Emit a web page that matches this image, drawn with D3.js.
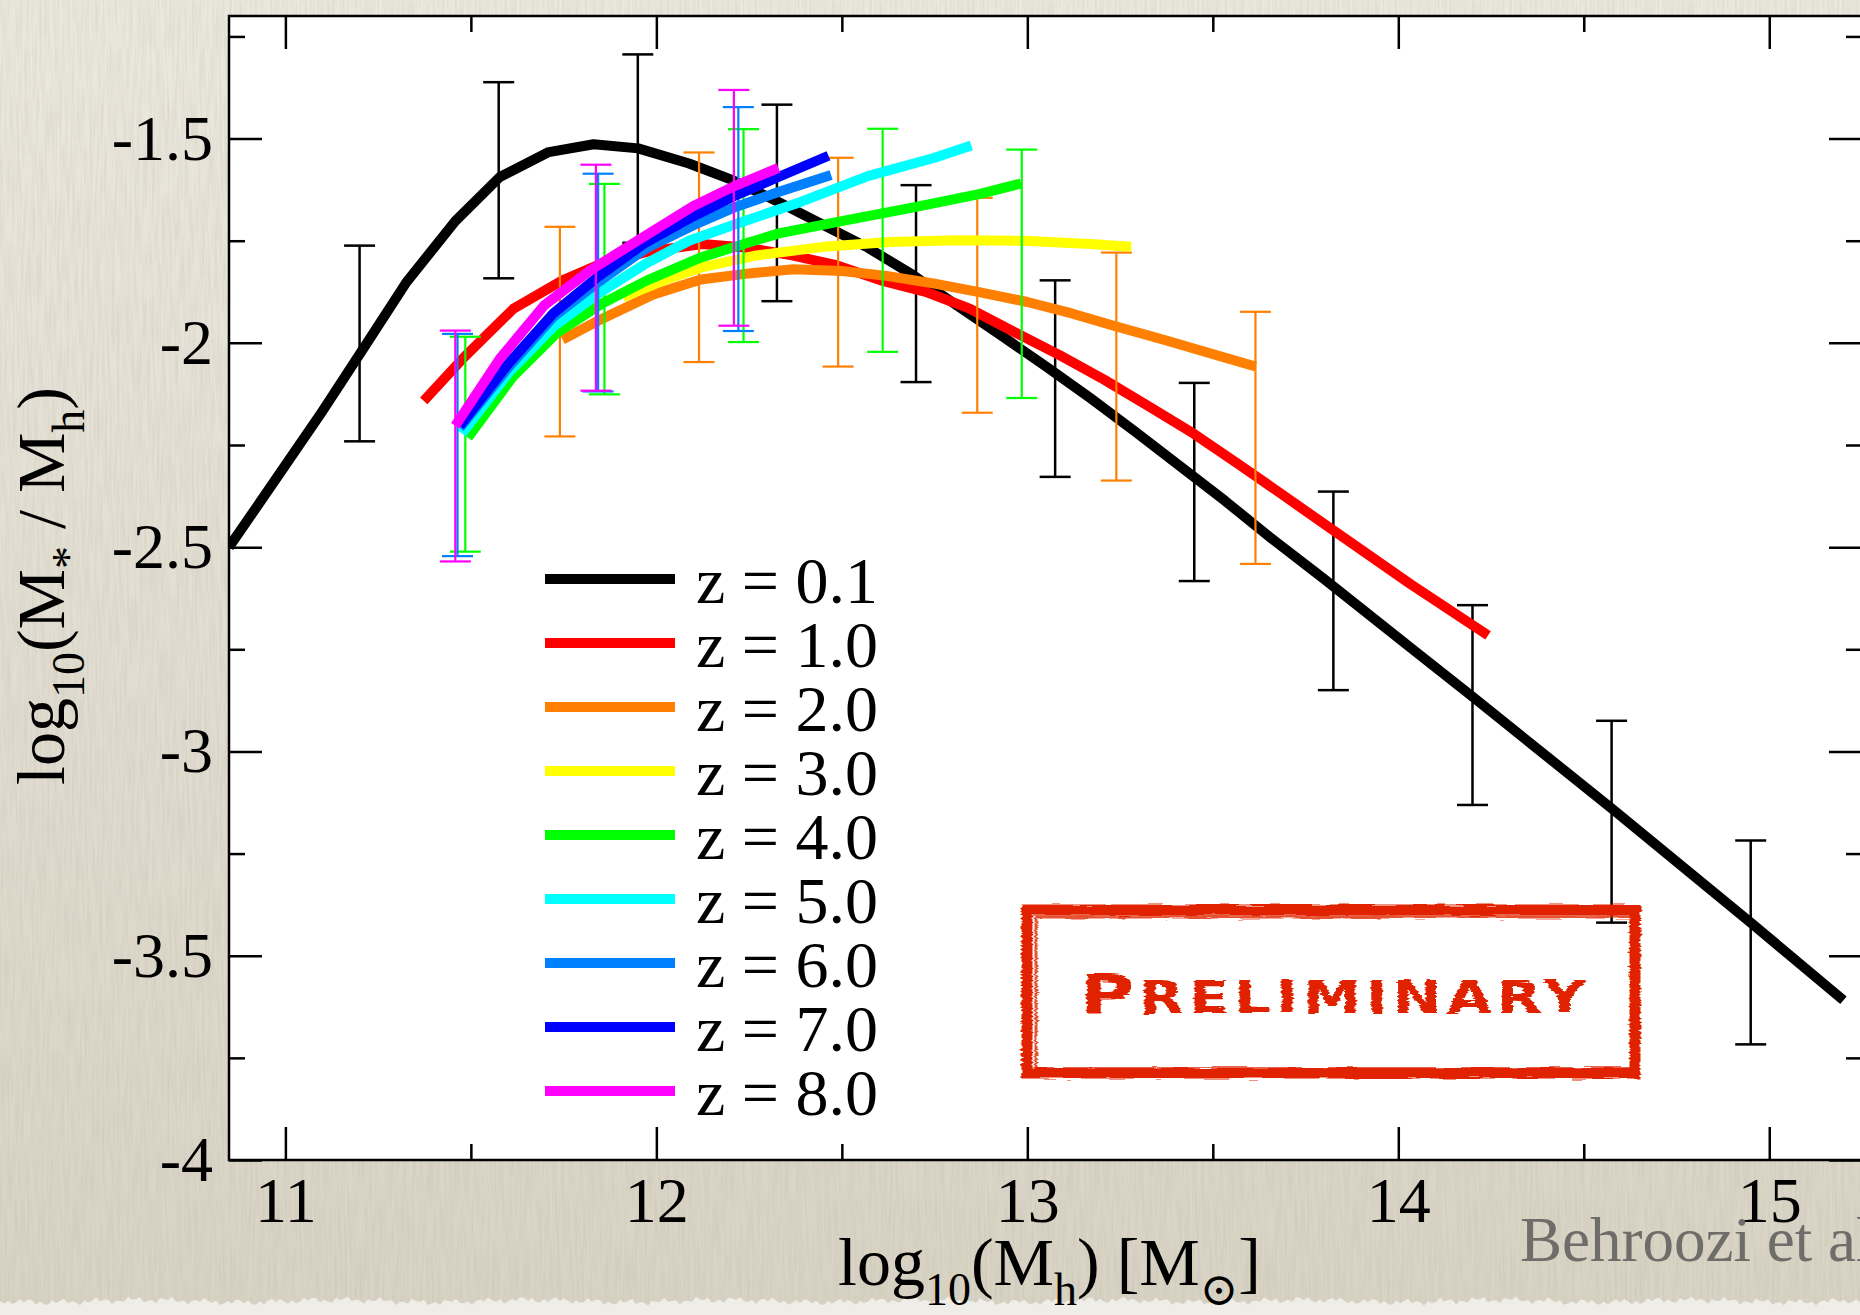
<!DOCTYPE html>
<html>
<head>
<meta charset="utf-8">
<title>Stellar mass / halo mass ratio</title>
<script src="https://cdn.jsdelivr.net/npm/d3@7/dist/d3.min.js"></script>
<style>
  html, body { margin: 0; padding: 0; background: #e4dfd3; }
  svg { display: block; }
</style>
</head>
<body>
<svg id="chart" width="1860" height="1315"></svg>
<script>
"use strict";

/* redshift of each curve, same order as the legend */
var redshifts = ["0.1", "1.0", "2.0", "3.0", "4.0", "5.0", "6.0", "7.0", "8.0"];

// [log10(Mh), log10(Mstar / Mh)]
var ratio_z0_1 = [[10.848,-2.50],[10.977,-2.330],[11.097,-2.171],[11.205,-2.021],[11.326,-1.852],[11.458,-1.702],
    [11.578,-1.594],[11.710,-1.533],[11.831,-1.514],[11.951,-1.524],[12.088,-1.561],[12.209,-1.603],[12.329,-1.655],
    [12.449,-1.711],[12.570,-1.767],[12.690,-1.833],[12.810,-1.908],[12.931,-1.983],[13.051,-2.058],[13.171,-2.136],
    [13.292,-2.218],[13.412,-2.302],[13.532,-2.386],[13.653,-2.475],[13.800,-2.578],[14.055,-2.762],[14.200,-2.866],
    [14.580,-3.143],[14.950,-3.419],[15.200,-3.609]];
var ratio_z1 = [[11.373,-2.142],[11.482,-2.035],[11.614,-1.917],[11.747,-1.847],[11.855,-1.805],[11.980,-1.776],
    [12.125,-1.758],[12.245,-1.767],[12.366,-1.786],[12.485,-1.810],[12.605,-1.847],[12.726,-1.875],[12.846,-1.917],
    [12.966,-1.974],[13.087,-2.030],[13.207,-2.090],[13.327,-2.155],[13.448,-2.222],[13.568,-2.296],[13.690,-2.373],
    [13.828,-2.461],[14.032,-2.590],[14.242,-2.716]];
var ratio_z2 = [[11.747,-1.992],[11.843,-1.946],[11.990,-1.882],[12.120,-1.845],[12.250,-1.830],[12.370,-1.820],
    [12.500,-1.824],[12.620,-1.836],[12.750,-1.855],[12.870,-1.876],[13.000,-1.900],[13.120,-1.928],[13.240,-1.960],
    [13.370,-1.993],[13.490,-2.025],[13.615,-2.058]];
var ratio_z3 = [[11.910,-1.888],[12.020,-1.847],[12.120,-1.816],[12.270,-1.786],[12.450,-1.765],[12.630,-1.753],
    [12.810,-1.749],[12.990,-1.750],[13.170,-1.758],[13.280,-1.765]];
var ratio_z4 = [[11.492,-2.232],[11.614,-2.082],[11.734,-1.974],[11.855,-1.903],[11.975,-1.847],[12.117,-1.792],
    [12.240,-1.757],[12.330,-1.732],[12.510,-1.700],[12.690,-1.669],[12.870,-1.636],[12.983,-1.610]];
var ratio_z5 = [[11.476,-2.222],[11.603,-2.072],[11.723,-1.960],[11.843,-1.880],[11.968,-1.808],[12.088,-1.750],
    [12.209,-1.711],[12.389,-1.655],[12.570,-1.592],[12.750,-1.547],[12.849,-1.517]];
var ratio_z6 = [[11.470,-2.208],[11.603,-2.058],[11.723,-1.936],[11.843,-1.852],[11.970,-1.770],[12.100,-1.712],
    [12.209,-1.669],[12.329,-1.631],[12.471,-1.589]];
var ratio_z7 = [[11.470,-2.203],[11.603,-2.049],[11.723,-1.927],[11.843,-1.838],[11.970,-1.755],[12.100,-1.690],
    [12.209,-1.641],[12.329,-1.594],[12.464,-1.542]];
var ratio_z8 = [[11.458,-2.203],[11.578,-2.039],[11.698,-1.908],[11.819,-1.824],[11.951,-1.749],[12.100,-1.665],
    [12.209,-1.617],[12.329,-1.572]];

// error bars: [log10(Mh), upper, lower]
var errors_z0_1 = [[11.200,-1.762,-2.241],[11.575,-1.362,-1.842],[11.950,-1.294,-1.755],[12.325,-1.417,-1.898],
    [12.700,-1.614,-2.096],[13.075,-1.847,-2.328],[13.450,-2.098,-2.583],[13.825,-2.364,-2.850],
    [14.200,-2.642,-3.131],[14.575,-2.925,-3.419],[14.950,-3.218,-3.717]];
var errors_z2 = [[11.740,-1.716,-2.229],[12.115,-1.534,-2.047],[12.490,-1.547,-2.058],[12.865,-1.645,-2.171],
    [13.240,-1.779,-2.337],[13.615,-1.924,-2.541]];
var errors_z4 = [[11.485,-1.985,-2.511],[11.860,-1.611,-2.126],[12.235,-1.477,-1.998],[12.610,-1.476,-2.022],
    [12.985,-1.527,-2.135]];
var errors_z6 = [[11.464,-1.978,-2.522],[11.843,-1.586,-2.119],[12.221,-1.423,-1.971]];
var errors_z8 = [[11.458,-1.970,-2.535],[11.837,-1.564,-2.117],[12.209,-1.381,-1.958]];

var xMajorTicks = [11, 12, 13, 14, 15];
var xMinorTicks = [11.5, 12.5, 13.5, 14.5];
var yMajorTicks = [-1.5, -2, -2.5, -3, -3.5, -4];
var yMinorTicks = [-1.25, -1.75, -2.25, -2.75, -3.25, -3.75];

var curves = [ratio_z0_1, ratio_z1, ratio_z2, ratio_z3, ratio_z4, ratio_z5, ratio_z6, ratio_z7, ratio_z8];
var errorSets = [errors_z0_1, null, errors_z2, null, errors_z4, null, errors_z6, null, errors_z8];
var colors = ["#000000", "#ff0000", "#ff8000", "#ffff00", "#00ff00", "#00ffff", "#0080ff", "#0000ff", "#ff00ff"];

var W = 1860, H = 1315;
var plot = { left: 229, top: 16, right: 1862, bottom: 1160 };
var serif = "'Liberation Serif', 'Times New Roman', serif";

var svg = d3.select("#chart");
var defs = svg.append("defs");

/* paper texture and background */
var grad = defs.append("linearGradient").attr("id", "paperGrad")
    .attr("x1", 0).attr("y1", 0).attr("x2", 0).attr("y2", 1);
grad.append("stop").attr("offset", "0%").attr("stop-color", "#ebe8de");
grad.append("stop").attr("offset", "100%").attr("stop-color", "#d9d3c4");

var grain = defs.append("filter").attr("id", "grain").attr("x", 0).attr("y", 0)
    .attr("width", "100%").attr("height", "100%");
grain.append("feTurbulence").attr("type", "fractalNoise")
    .attr("baseFrequency", "0.4 0.02").attr("numOctaves", 3).attr("seed", 7);
grain.append("feColorMatrix").attr("type", "matrix")
    .attr("values", "0 0 0 0 0.45  0 0 0 0 0.42  0 0 0 0 0.36  0.45 0 0 0 -0.15");

var rough = defs.append("filter").attr("id", "rough")
    .attr("x", "-5%").attr("y", "-10%").attr("width", "110%").attr("height", "120%");
rough.append("feTurbulence").attr("type", "fractalNoise")
    .attr("baseFrequency", "0.03 0.5").attr("numOctaves", 2).attr("seed", 3).attr("result", "n");
rough.append("feDisplacementMap").attr("in", "SourceGraphic").attr("in2", "n")
    .attr("scale", 6).attr("xChannelSelector", "R").attr("yChannelSelector", "G");

defs.append("clipPath").attr("id", "plotClip").append("rect")
    .attr("x", plot.left).attr("y", plot.top)
    .attr("width", plot.right - plot.left).attr("height", plot.bottom - plot.top);

svg.append("rect").attr("width", W).attr("height", H).attr("fill", "url(#paperGrad)");
svg.append("rect").attr("width", W).attr("height", H).attr("filter", "url(#grain)");

/* torn paper edge at the bottom */
var edge = [];
for (var i = 0; i <= 465; i++) {
    edge.push([i * 4, 1301 + 2.2 * Math.sin(i * 2.3) + 1.6 * Math.sin(i * 0.71) + 1.2 * Math.sin(i * 0.13)]);
}
edge.push([W, H], [0, H]);
svg.append("path").attr("d", d3.line()(edge) + "Z").attr("fill", "#efede7");

/* plot area */
svg.append("rect")
    .attr("x", plot.left).attr("y", plot.top)
    .attr("width", plot.right - plot.left).attr("height", plot.bottom - plot.top)
    .attr("fill", "#ffffff");

var x = d3.scaleLinear().domain([10.848, 15.25]).range([plot.left, plot.right]);
var y = d3.scaleLinear().domain([-4, -1.2]).range([plot.bottom, plot.top]);

/* curves and error bars, drawn set by set like the original */
var line = d3.line()
    .x(function (d) { return x(d[0]); }).y(function (d) { return y(d[1]); });
var marks = svg.append("g").attr("clip-path", "url(#plotClip)");
var capHalf = 15.5;

curves.forEach(function (data, k) {
    marks.append("path").datum(data)
        .attr("d", line)
        .attr("fill", "none")
        .attr("stroke", colors[k])
        .attr("stroke-width", 10)
        .attr("stroke-linejoin", "round");

    var errs = errorSets[k];
    if (!errs) return;
    var eb = marks.append("g").attr("stroke", colors[k]).attr("stroke-width", k === 0 ? 2.5 : 2.2);
    eb.selectAll(".bar").data(errs).enter().append("line")
        .attr("x1", function (d) { return x(d[0]); }).attr("x2", function (d) { return x(d[0]); })
        .attr("y1", function (d) { return y(d[1]); }).attr("y2", function (d) { return y(d[2]); });
    [1, 2].forEach(function (j) {
        eb.selectAll(".cap" + j).data(errs).enter().append("line")
            .attr("x1", function (d) { return x(d[0]) - capHalf; })
            .attr("x2", function (d) { return x(d[0]) + capHalf; })
            .attr("y1", function (d) { return y(d[j]); })
            .attr("y2", function (d) { return y(d[j]); });
    });
});

/* axes: ticks on all four sides pointing inward */
function styleAxis(g) {
    g.select(".domain").remove();
    g.selectAll(".tick line").attr("stroke", "#000").attr("stroke-width", 2.5);
    g.attr("font-family", serif).attr("font-size", 64);
    g.selectAll(".tick text").attr("fill", "#000");
}
function fmt(d) { return String(d); }

svg.append("g").attr("transform", "translate(0," + plot.bottom + ")")
    .call(d3.axisBottom(x).tickValues(xMajorTicks).tickSizeInner(-33).tickSizeOuter(0)
        .tickPadding(17).tickFormat(fmt)).call(styleAxis);
svg.append("g").attr("transform", "translate(0," + plot.bottom + ")")
    .call(d3.axisBottom(x).tickValues(xMinorTicks).tickSizeInner(-16).tickSizeOuter(0)
        .tickFormat("")).call(styleAxis);
svg.append("g").attr("transform", "translate(0," + plot.top + ")")
    .call(d3.axisTop(x).tickValues(xMajorTicks).tickSizeInner(-33).tickSizeOuter(0)
        .tickFormat("")).call(styleAxis);
svg.append("g").attr("transform", "translate(0," + plot.top + ")")
    .call(d3.axisTop(x).tickValues(xMinorTicks).tickSizeInner(-16).tickSizeOuter(0)
        .tickFormat("")).call(styleAxis);
svg.append("g").attr("transform", "translate(" + plot.left + ",0)")
    .call(d3.axisLeft(y).tickValues(yMajorTicks).tickSizeInner(-33).tickSizeOuter(0)
        .tickPadding(16).tickFormat(fmt)).call(styleAxis);
svg.append("g").attr("transform", "translate(" + plot.left + ",0)")
    .call(d3.axisLeft(y).tickValues(yMinorTicks).tickSizeInner(-16).tickSizeOuter(0)
        .tickFormat("")).call(styleAxis);
svg.append("g").attr("transform", "translate(" + plot.right + ",0)")
    .call(d3.axisRight(y).tickValues(yMajorTicks).tickSizeInner(-33).tickSizeOuter(0)
        .tickFormat("")).call(styleAxis);
svg.append("g").attr("transform", "translate(" + plot.right + ",0)")
    .call(d3.axisRight(y).tickValues(yMinorTicks).tickSizeInner(-16).tickSizeOuter(0)
        .tickFormat("")).call(styleAxis);

svg.append("rect")
    .attr("x", plot.left).attr("y", plot.top)
    .attr("width", plot.right - plot.left).attr("height", plot.bottom - plot.top)
    .attr("fill", "none").attr("stroke", "#000").attr("stroke-width", 2.5);

/* legend */
var legend = svg.append("g").attr("font-family", serif).attr("font-size", 66);
redshifts.forEach(function (z, k) {
    var ly = 579 + k * 64;
    legend.append("line")
        .attr("x1", 545).attr("x2", 675).attr("y1", ly).attr("y2", ly)
        .attr("stroke", colors[k]).attr("stroke-width", 10);
    legend.append("text").attr("x", 696).attr("y", ly + 24).text("z = " + z);
});

/* PRELIMINARY stamp */
var stamp = svg.append("g").attr("filter", "url(#rough)");
stamp.append("rect")
    .attr("x", 1027).attr("y", 910).attr("width", 608).attr("height", 163)
    .attr("fill", "none").attr("stroke", "#e12406").attr("stroke-width", 11);
stamp.append("rect")
    .attr("x", 1036).attr("y", 917).attr("width", 596).attr("height", 152)
    .attr("fill", "none").attr("stroke", "#e12406").attr("stroke-width", 3).attr("opacity", 0.8);
var st = stamp.append("text")
    .attr("transform", "translate(1080,1013) scale(1.32,1)")
    .attr("fill", "#e12406")
    .attr("font-family", "'DejaVu Sans', sans-serif").attr("font-weight", "bold")
    .attr("textLength", 383).attr("lengthAdjust", "spacing");
st.append("tspan").attr("font-size", 56).text("P");
st.append("tspan").attr("font-size", 44).text("RELIMINARY");

/* axis titles */
var xt = svg.append("text").attr("x", 838).attr("y", 1285)
    .attr("font-family", serif).attr("font-size", 68).attr("fill", "#000");
xt.append("tspan").text("log");
xt.append("tspan").attr("font-size", 46).attr("dy", 20).text("10");
xt.append("tspan").attr("dy", -20).text("(M");
xt.append("tspan").attr("font-size", 46).attr("dy", 20).text("h");
xt.append("tspan").attr("dy", -20).text(") [M");
xt.append("tspan").attr("font-size", 46).attr("dy", 20)
    .attr("font-family", "'DejaVu Serif', serif").text("\u2299");
xt.append("tspan").attr("dy", -20).text("]");

var yt = svg.append("text").attr("transform", "translate(64,586) rotate(-90)")
    .attr("text-anchor", "middle")
    .attr("font-family", serif).attr("font-size", 68).attr("fill", "#000");
yt.append("tspan").text("log");
yt.append("tspan").attr("font-size", 46).attr("dy", 20).text("10");
yt.append("tspan").attr("dy", -20).text("(M");
yt.append("tspan").attr("font-size", 46).attr("dy", 20).text("*");
yt.append("tspan").attr("dy", -20).text(" / M");
yt.append("tspan").attr("font-size", 46).attr("dy", 20).text("h");
yt.append("tspan").attr("dy", -20).text(")");

/* credit, cut by the right edge as in the original */
svg.append("text").attr("x", 1520).attr("y", 1261)
    .attr("font-family", serif).attr("font-size", 63).attr("fill", "#6e6d69")
    .text("Behroozi et al.");
</script>
</body>
</html>
